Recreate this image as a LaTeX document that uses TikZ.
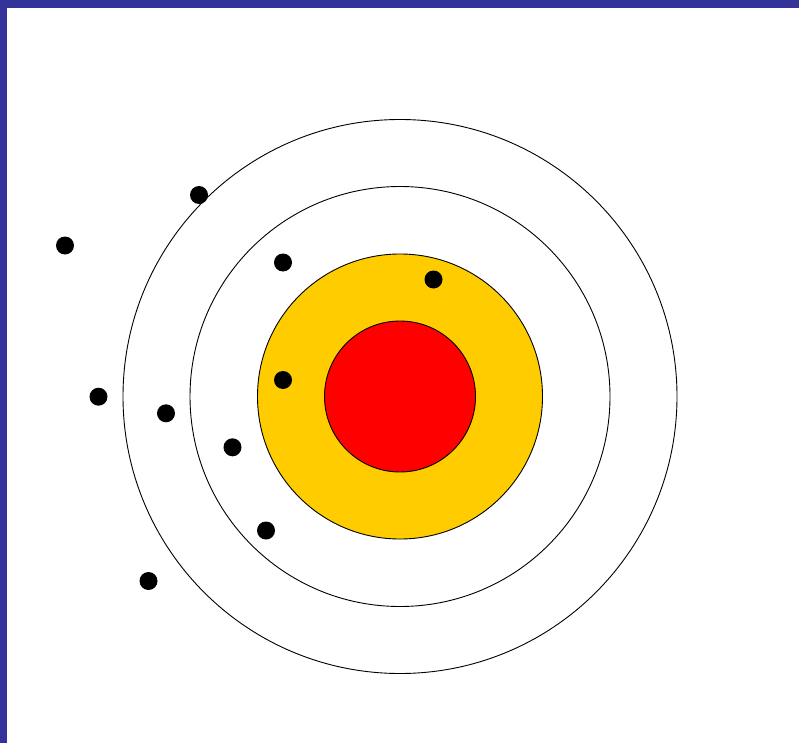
\documentclass[tikz,border=0pt]{standalone}
\definecolor{framebl}{HTML}{333399}
\definecolor{ringyel}{HTML}{FFCC00}
\definecolor{ringred}{HTML}{FF0000}
\begin{document}
\begin{tikzpicture}[x=1pt,y=-1pt,
  ring/.style={draw=black,line width=0.9pt},
  hit/.style={circle,fill=black,inner sep=0pt,minimum size=18pt}]
\useasboundingbox (0,0) rectangle (799,743);
\fill[white] (0,0) rectangle (799,743);
\fill[framebl] (0,0) rectangle (799,8);
\fill[framebl] (0,0) rectangle (7,743);
\coordinate (c) at (400,396.5);
\draw[ring,fill=white] (c) circle[radius=277];
\draw[ring,fill=white] (c) circle[radius=210];
\draw[ring,fill=ringyel] (c) circle[radius=142.5];
\draw[ring,fill=ringred] (c) circle[radius=75.5];
\node[hit] (d1) at (199,195) {};
\node[hit] (d2) at (65,245.5) {};
\node[hit] (d3) at (283,262.5) {};
\node[hit] (d4) at (433.5,279.5) {};
\node[hit] (d5) at (283,380) {};
\node[hit] (d6) at (98.5,396.7) {};
\node[hit] (d7) at (166,413.3) {};
\node[hit] (d8) at (232.5,447.3) {};
\node[hit] (d9) at (266,530.5) {};
\node[hit] (d10) at (148.5,581) {};
\end{tikzpicture}
\end{document}
